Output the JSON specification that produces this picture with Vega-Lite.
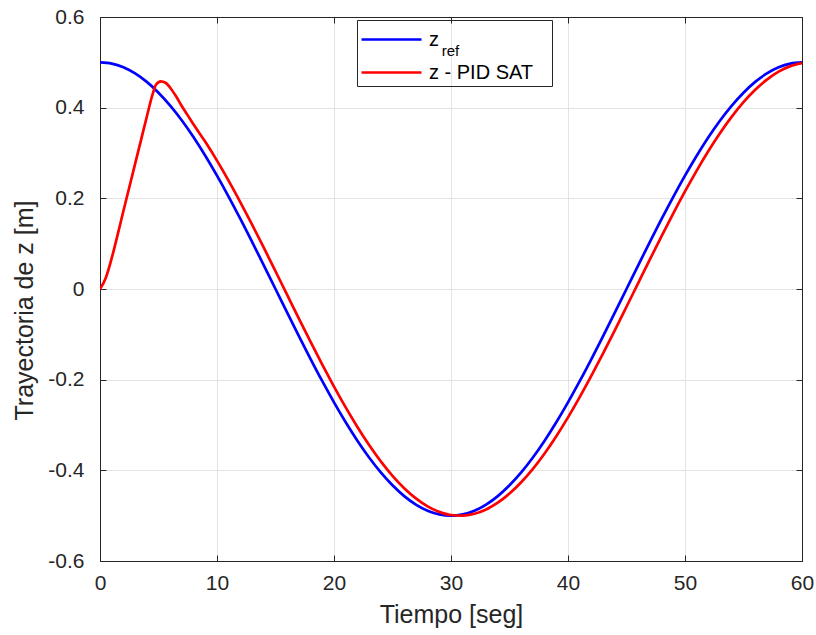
{
  "$schema": "https://vega.github.io/schema/vega-lite/v6.json",
  "autosize": "none",
  "width": 702,
  "height": 544,
  "padding": {"left": 100, "top": 17, "right": 14, "bottom": 74},
  "background": "white",
  "config": {
    "font": "Liberation Sans",
    "view": {"stroke": "#262626", "strokeWidth": 1}
  },
  "datasets": {
    "curves": [
      {"t": 0, "z": 0.5, "serie": "ref"},
      {"t": 1, "z": 0.4973, "serie": "ref"},
      {"t": 2, "z": 0.4891, "serie": "ref"},
      {"t": 3, "z": 0.4755, "serie": "ref"},
      {"t": 4, "z": 0.4568, "serie": "ref"},
      {"t": 5, "z": 0.433, "serie": "ref"},
      {"t": 6, "z": 0.4045, "serie": "ref"},
      {"t": 7, "z": 0.3716, "serie": "ref"},
      {"t": 8, "z": 0.3346, "serie": "ref"},
      {"t": 9, "z": 0.2939, "serie": "ref"},
      {"t": 10, "z": 0.25, "serie": "ref"},
      {"t": 11, "z": 0.2034, "serie": "ref"},
      {"t": 12, "z": 0.1545, "serie": "ref"},
      {"t": 13, "z": 0.104, "serie": "ref"},
      {"t": 14, "z": 0.0523, "serie": "ref"},
      {"t": 15, "z": 0, "serie": "ref"},
      {"t": 16, "z": -0.0523, "serie": "ref"},
      {"t": 17, "z": -0.104, "serie": "ref"},
      {"t": 18, "z": -0.1545, "serie": "ref"},
      {"t": 19, "z": -0.2034, "serie": "ref"},
      {"t": 20, "z": -0.25, "serie": "ref"},
      {"t": 21, "z": -0.2939, "serie": "ref"},
      {"t": 22, "z": -0.3346, "serie": "ref"},
      {"t": 23, "z": -0.3716, "serie": "ref"},
      {"t": 24, "z": -0.4045, "serie": "ref"},
      {"t": 25, "z": -0.433, "serie": "ref"},
      {"t": 26, "z": -0.4568, "serie": "ref"},
      {"t": 27, "z": -0.4755, "serie": "ref"},
      {"t": 28, "z": -0.4891, "serie": "ref"},
      {"t": 29, "z": -0.4973, "serie": "ref"},
      {"t": 30, "z": -0.5, "serie": "ref"},
      {"t": 31, "z": -0.4973, "serie": "ref"},
      {"t": 32, "z": -0.4891, "serie": "ref"},
      {"t": 33, "z": -0.4755, "serie": "ref"},
      {"t": 34, "z": -0.4568, "serie": "ref"},
      {"t": 35, "z": -0.433, "serie": "ref"},
      {"t": 36, "z": -0.4045, "serie": "ref"},
      {"t": 37, "z": -0.3716, "serie": "ref"},
      {"t": 38, "z": -0.3346, "serie": "ref"},
      {"t": 39, "z": -0.2939, "serie": "ref"},
      {"t": 40, "z": -0.25, "serie": "ref"},
      {"t": 41, "z": -0.2034, "serie": "ref"},
      {"t": 42, "z": -0.1545, "serie": "ref"},
      {"t": 43, "z": -0.104, "serie": "ref"},
      {"t": 44, "z": -0.0523, "serie": "ref"},
      {"t": 45, "z": 0, "serie": "ref"},
      {"t": 46, "z": 0.0523, "serie": "ref"},
      {"t": 47, "z": 0.104, "serie": "ref"},
      {"t": 48, "z": 0.1545, "serie": "ref"},
      {"t": 49, "z": 0.2034, "serie": "ref"},
      {"t": 50, "z": 0.25, "serie": "ref"},
      {"t": 51, "z": 0.2939, "serie": "ref"},
      {"t": 52, "z": 0.3346, "serie": "ref"},
      {"t": 53, "z": 0.3716, "serie": "ref"},
      {"t": 54, "z": 0.4045, "serie": "ref"},
      {"t": 55, "z": 0.433, "serie": "ref"},
      {"t": 56, "z": 0.4568, "serie": "ref"},
      {"t": 57, "z": 0.4755, "serie": "ref"},
      {"t": 58, "z": 0.4891, "serie": "ref"},
      {"t": 59, "z": 0.4973, "serie": "ref"},
      {"t": 60, "z": 0.5, "serie": "ref"},
      {"t": 0, "z": 0, "serie": "pid"},
      {"t": 0.5, "z": 0.025, "serie": "pid"},
      {"t": 1, "z": 0.068, "serie": "pid"},
      {"t": 1.5, "z": 0.119, "serie": "pid"},
      {"t": 2, "z": 0.172, "serie": "pid"},
      {"t": 2.5, "z": 0.224, "serie": "pid"},
      {"t": 3, "z": 0.276, "serie": "pid"},
      {"t": 3.5, "z": 0.328, "serie": "pid"},
      {"t": 4, "z": 0.38, "serie": "pid"},
      {"t": 4.5, "z": 0.43, "serie": "pid"},
      {"t": 4.8, "z": 0.451, "serie": "pid"},
      {"t": 5.2, "z": 0.458, "serie": "pid"},
      {"t": 5.6, "z": 0.455, "serie": "pid"},
      {"t": 6, "z": 0.444, "serie": "pid"},
      {"t": 6.5, "z": 0.425, "serie": "pid"},
      {"t": 7, "z": 0.403, "serie": "pid"},
      {"t": 7.5, "z": 0.383, "serie": "pid"},
      {"t": 8, "z": 0.3627, "serie": "pid"},
      {"t": 9, "z": 0.3247, "serie": "pid"},
      {"t": 10, "z": 0.2832, "serie": "pid"},
      {"t": 11, "z": 0.2386, "serie": "pid"},
      {"t": 12, "z": 0.1913, "serie": "pid"},
      {"t": 13, "z": 0.142, "serie": "pid"},
      {"t": 14, "z": 0.0911, "serie": "pid"},
      {"t": 15, "z": 0.0392, "serie": "pid"},
      {"t": 16, "z": -0.0131, "serie": "pid"},
      {"t": 17, "z": -0.0653, "serie": "pid"},
      {"t": 18, "z": -0.1167, "serie": "pid"},
      {"t": 19, "z": -0.1669, "serie": "pid"},
      {"t": 20, "z": -0.2152, "serie": "pid"},
      {"t": 21, "z": -0.2612, "serie": "pid"},
      {"t": 22, "z": -0.3044, "serie": "pid"},
      {"t": 23, "z": -0.3442, "serie": "pid"},
      {"t": 24, "z": -0.3802, "serie": "pid"},
      {"t": 25, "z": -0.4121, "serie": "pid"},
      {"t": 26, "z": -0.4394, "serie": "pid"},
      {"t": 27, "z": -0.4619, "serie": "pid"},
      {"t": 28, "z": -0.4794, "serie": "pid"},
      {"t": 29, "z": -0.4916, "serie": "pid"},
      {"t": 30, "z": -0.4985, "serie": "pid"},
      {"t": 31, "z": -0.4998, "serie": "pid"},
      {"t": 32, "z": -0.4957, "serie": "pid"},
      {"t": 33, "z": -0.4862, "serie": "pid"},
      {"t": 34, "z": -0.4713, "serie": "pid"},
      {"t": 35, "z": -0.4513, "serie": "pid"},
      {"t": 36, "z": -0.4263, "serie": "pid"},
      {"t": 37, "z": -0.3967, "serie": "pid"},
      {"t": 38, "z": -0.3627, "serie": "pid"},
      {"t": 39, "z": -0.3247, "serie": "pid"},
      {"t": 40, "z": -0.2832, "serie": "pid"},
      {"t": 41, "z": -0.2386, "serie": "pid"},
      {"t": 42, "z": -0.1913, "serie": "pid"},
      {"t": 43, "z": -0.142, "serie": "pid"},
      {"t": 44, "z": -0.0911, "serie": "pid"},
      {"t": 45, "z": -0.0392, "serie": "pid"},
      {"t": 46, "z": 0.0131, "serie": "pid"},
      {"t": 47, "z": 0.0653, "serie": "pid"},
      {"t": 48, "z": 0.1167, "serie": "pid"},
      {"t": 49, "z": 0.1669, "serie": "pid"},
      {"t": 50, "z": 0.2152, "serie": "pid"},
      {"t": 51, "z": 0.2612, "serie": "pid"},
      {"t": 52, "z": 0.3044, "serie": "pid"},
      {"t": 53, "z": 0.3442, "serie": "pid"},
      {"t": 54, "z": 0.3802, "serie": "pid"},
      {"t": 55, "z": 0.4121, "serie": "pid"},
      {"t": 56, "z": 0.4394, "serie": "pid"},
      {"t": 57, "z": 0.4619, "serie": "pid"},
      {"t": 58, "z": 0.4794, "serie": "pid"},
      {"t": 59, "z": 0.4916, "serie": "pid"},
      {"t": 60, "z": 0.4985, "serie": "pid"}
    ]
  },
  "layer": [
    {
      "data": {"name": "curves"},
      "mark": {"type": "line", "strokeWidth": 2.7, "interpolate": "monotone", "clip": true},
      "encoding": {
        "x": {
          "field": "t", "type": "quantitative",
          "scale": {"domain": [0, 60], "nice": false, "zero": false},
          "axis": {
            "title": "Tiempo [seg]", "titleFontSize": 25, "titleFontWeight": "normal", "titleColor": "#262626", "titlePadding": 9,
            "values": [0, 10, 20, 30, 40, 50, 60],
            "labelFontSize": 21, "labelColor": "#262626", "labelPadding": 17, "labelFlush": false,
            "tickSize": -6, "tickColor": "#262626", "domainColor": "#262626",
            "grid": true, "gridColor": "#e3e3e3"
          }
        },
        "y": {
          "field": "z", "type": "quantitative",
          "scale": {"domain": [-0.6, 0.6], "nice": false, "zero": false},
          "axis": {
            "title": "Trayectoria de z [m]", "titleFontSize": 25, "titleFontWeight": "normal", "titleColor": "#262626",
            "titleBaseline": "alphabetic", "titleX": -68, "titleY": 293,
            "values": [-0.6, -0.4, -0.2, 0, 0.2, 0.4, 0.6],
            "labelExpr": "toString(round(datum.value*10)/10)",
            "labelFontSize": 21, "labelColor": "#262626", "labelPadding": 22, "labelFlush": false,
            "tickSize": -6, "tickColor": "#262626", "domainColor": "#262626",
            "grid": true, "gridColor": "#e3e3e3"
          }
        },
        "color": {
          "field": "serie", "type": "nominal",
          "scale": {"domain": ["ref", "pid"], "range": ["#0000ff", "#ff0000"]},
          "legend": {
            "title": null, "orient": "none", "legendX": 257, "legendY": 3,
            "labelExpr": "datum.value == 'ref' ? 'z' : 'z - PID SAT\u2800'",
            "symbolType": "M-1,0H3", "symbolSize": 900, "symbolStrokeWidth": 2.7,
            "labelFontSize": 20, "labelColor": "#000000", "labelOffset": 36,
            "fillColor": null, "strokeColor": "#262626", "padding": 3,
            "rowPadding": 6, "labelLimit": 300
          }
        }
      }
    },
    {
      "data": {"values": [{}]},
      "mark": {"type": "text", "text": "ref", "fontSize": 15, "align": "left", "baseline": "middle", "color": "#000000"},
      "encoding": {
        "x": {"datum": 29.2, "type": "quantitative",
          "axis": {"orient": "top", "labels": false, "title": null, "grid": false, "values": [0, 10, 20, 30, 40, 50, 60], "tickSize": -6, "tickColor": "#262626", "domainColor": "#262626"}},
        "y": {"datum": 0.524, "type": "quantitative",
          "axis": {"orient": "right", "labels": false, "title": null, "grid": false, "values": [-0.6, -0.4, -0.2, 0, 0.2, 0.4, 0.6], "tickSize": -6, "tickColor": "#262626", "domainColor": "#262626"}}
      }
    }
  ],
  "resolve": {"axis": {"x": "independent", "y": "independent"}}
}
